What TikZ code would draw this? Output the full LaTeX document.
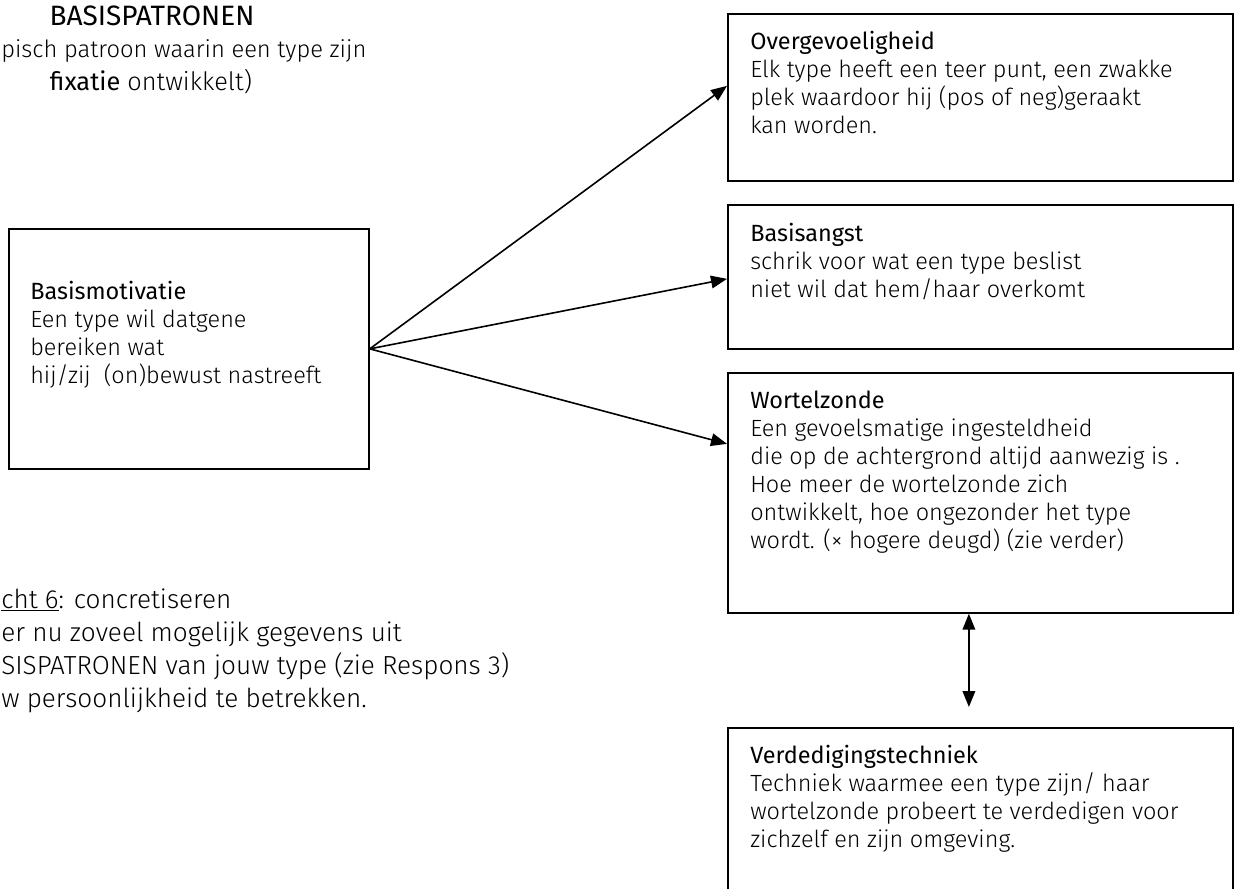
\documentclass[tikz,border=0pt]{standalone}
\usepackage{fontspec}
\setmainfont{Fira Sans}[UprightFont={* Light}, BoldFont={*}]
\usetikzlibrary{arrows.meta,calc}
\tikzset{
  box/.style={draw=black, line width=1.3pt, anchor=north west, inner sep=0pt},
  txt/.style={anchor=north west, inner sep=0pt, align=left, text=black,
              font=\fontsize{17.6}{21}\selectfont},
  outer/.style={inner sep=0pt, text=black, font=\fontsize{19.6}{24.75}\selectfont},
  conn/.style={line width=1.2pt, -{Triangle[length=12pt,width=9.5pt]}},
  dconn/.style={line width=1.2pt, {Triangle[length=12pt,width=9.5pt]}-{Triangle[length=12pt,width=9.5pt]}}
}
\begin{document}
\begin{tikzpicture}[x=0.75pt,y=-0.75pt]
\clip (0,0) rectangle (1240,889);
\fill[white] (0,0) rectangle (1240,889);

% heading top left
\node[outer, anchor=base, font=\fontsize{21}{24.75}\selectfont] (bp) at (152,25) {\textbf{BASISPATRONEN}};
\node[outer, anchor=base west, font=\fontsize{17.8}{24.75}\selectfont] (tp) at (1,57) {pisch patroon waarin een type zijn};
\node[outer, anchor=base, font=\fontsize{19}{24.75}\selectfont] (fx) at (151,90) {\textbf{fixatie} ontwikkelt)};

% boxes
\node[box, minimum width=270pt, minimum height=180pt] (bm) at (8,228) {};
\node[box, minimum width=378.75pt, minimum height=125.25pt] (ov) at (727,13) {};
\node[box, minimum width=378.75pt, minimum height=108pt] (bs) at (727,204) {};
\node[box, minimum width=378.75pt, minimum height=180pt] (wz) at (727,372) {};
\node[box, minimum width=378.75pt, minimum height=150pt] (vd) at (727,727) {};

% box texts
\node[txt] (bmt) at (30,280) {\textbf{Basismotivatie}\strut\\
Een type wil datgene\\
bereiken wat\\
hij/zij \ (on)bewust nastreeft};
\node[txt] (ovt) at (750,30) {\textbf{Overgevoeligheid}\strut\\
Elk type heeft een teer punt, een zwakke\\
plek waardoor hij (pos of neg)geraakt\\
kan worden.};
\node[txt] (bst) at (750,222) {\textbf{Basisangst}\strut\\
schrik voor wat een type beslist\\
niet wil dat hem/haar overkomt};
\node[txt] (wzt) at (750,389) {\textbf{Wortelzonde}\strut\\
Een gevoelsmatige ingesteldheid\\
die op de achtergrond altijd aanwezig is .\\
Hoe meer de wortelzonde zich\\
ontwikkelt, hoe ongezonder het type\\
wordt. (× hogere deugd) (zie verder)};
\node[txt] (vdt) at (750,744) {\textbf{Verdedigingstechniek}\strut\\
Techniek waarmee een type zijn/ haar\\
wortelzonde probeert te verdedigen voor\\
zichzelf en zijn omgeving.};

% bottom left text
\node[outer, anchor=north west, align=left] (opd) at (1,585) {\underline{cht 6}: concretiseren\strut\\
er nu zoveel mogelijk gegevens uit\\
SISPATRONEN van jouw type (zie Respons 3)\\
w persoonlijkheid te betrekken.};

% connectors
\draw[conn] (bm.east) -- ([yshift=8.6pt]ov.west);
\draw[conn] (bm.east) -- ([yshift=-1.5pt]bs.west);
\draw[conn] (bm.east) -- ([yshift=36.75pt]wz.west);
\draw[dconn, shorten >=15pt] ([xshift=-8.6pt]wz.south) -- ([xshift=-8.6pt]vd.north);
\end{tikzpicture}
\end{document}
